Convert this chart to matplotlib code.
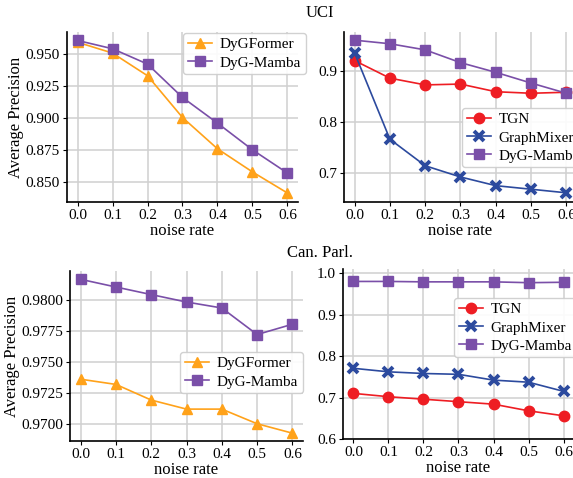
import matplotlib
matplotlib.use("Agg")
import matplotlib.pyplot as plt
import numpy as np

noise = [0.0, 0.1, 0.2, 0.3, 0.4, 0.5, 0.6]

uci_dygformer = [0.959, 0.9505, 0.9328, 0.9001, 0.8756, 0.8575, 0.8410]
uci_dygmamba_l = [0.9604, 0.9539, 0.9419, 0.9158, 0.8957, 0.8748, 0.8566]
uci_tgn = [0.920, 0.8856, 0.8724, 0.874, 0.859, 0.856, 0.858]
uci_graphmixer = [0.935, 0.766, 0.714, 0.692, 0.675, 0.668, 0.661]
uci_dygmamba_r = [0.960, 0.953, 0.941, 0.916, 0.897, 0.876, 0.856]

cp_dygformer = [0.97364, 0.97322, 0.97196, 0.97123, 0.97123, 0.97005, 0.96929]
cp_dygmamba_l = [0.98169, 0.98107, 0.98046, 0.97986, 0.97938, 0.97724, 0.97807]
cp_tgn = [0.710, 0.702, 0.696, 0.690, 0.684, 0.668, 0.656]
cp_graphmixer = [0.7705, 0.762, 0.758, 0.756, 0.742, 0.737, 0.715]
cp_dygmamba_r = [0.980, 0.980, 0.979, 0.979, 0.979, 0.977, 0.978]

titles = ["UCI", "Can. Parl."]
xticks = [0.0, 0.1, 0.2, 0.3, 0.4, 0.5, 0.6]

ORANGE = "#FFA21A"
PURPLE = "#7A4FA8"
RED = "#EE1D23"
BLUE = "#2C4A9E"

plt.rcParams['font.family'] = ['Liberation Serif', 'DejaVu Serif']
plt.rcParams['font.size'] = 11

fig = plt.figure(figsize=(5.73, 4.78), dpi=100)
W, H = 573.0, 478.0

def mkax(l, t, r, b):
    return fig.add_axes([l / W, 1 - b / H, (r - l) / W, (b - t) / H])

def style(ax, yticks, ylim, fmt):
    ax.set_facecolor("white")
    ax.grid(True, color="#D0D0D0", linewidth=1.1)
    ax.set_axisbelow(True)
    for s in ["top", "right"]:
        ax.spines[s].set_visible(False)
    for s in ["left", "bottom"]:
        ax.spines[s].set_color("black")
        ax.spines[s].set_linewidth(1.2)
    ax.set_xticks(xticks)
    ax.set_xticklabels([f"{v:.1f}" for v in xticks])
    ax.set_yticks(yticks)
    ax.set_yticklabels([fmt.format(v) for v in yticks])
    ax.set_ylim(*ylim)
    ax.set_xlim(-0.03, 0.63)
    ax.tick_params(axis="both", labelsize=11, length=3, width=0.8, direction="out", color="black", pad=2)
    ax.set_xlabel("noise rate", fontsize=12, labelpad=1)

lw = 1.2
ms = 7.5
legkw = dict(fontsize=11, framealpha=0.9, edgecolor="#CCCCCC", borderpad=0.3,
             handlelength=1.6, handletextpad=0.5, labelspacing=0.3, borderaxespad=0.0)

def fig_loc(ax, x, y):
    inv = ax.transAxes.inverted()
    px = fig.transFigure.transform((x / W, 1 - y / H))
    return tuple(inv.transform(px))

# Top-left
ax1 = mkax(67, 32, 298, 202)
ax1.plot(noise, uci_dygformer, color=ORANGE, marker="^", ms=ms, lw=lw, label="DyGFormer")
ax1.plot(noise, uci_dygmamba_l, color=PURPLE, marker="s", ms=ms, lw=lw, label="DyG-Mamba")
style(ax1, [0.850, 0.875, 0.900, 0.925, 0.950], (0.834, 0.967), "{:.3f}")
ax1.set_ylabel("Average Precision", fontsize=12, labelpad=1)
ax1.legend(loc="upper left", bbox_to_anchor=fig_loc(ax1, 183, 33), **legkw)

# Top-right
ax2 = mkax(344, 32, 577, 202)
ax2.plot(noise, uci_tgn, color=RED, marker="o", ms=ms, lw=lw, label="TGN")
ax2.plot(noise, uci_graphmixer, color=BLUE, marker="x", ms=ms, mew=2.8, lw=lw, label="GraphMixer")
ax2.plot(noise, uci_dygmamba_r, color=PURPLE, marker="s", ms=ms, lw=lw, label="DyG-Mamba")
style(ax2, [0.7, 0.8, 0.9], (0.643, 0.976), "{:.1f}")
ax2.legend(loc="upper left", bbox_to_anchor=fig_loc(ax2, 462, 108), **legkw)

# Bottom-left
ax3 = mkax(70, 271, 303, 441)
ax3.plot(noise, cp_dygformer, color=ORANGE, marker="^", ms=ms, lw=lw, label="DyGFormer")
ax3.plot(noise, cp_dygmamba_l, color=PURPLE, marker="s", ms=ms, lw=lw, label="DyG-Mamba")
style(ax3, [0.9700, 0.9725, 0.9750, 0.9775, 0.9800], (0.96866, 0.98236), "{:.4f}")
ax3.set_ylabel("Average Precision", fontsize=12, labelpad=1)
ax3.legend(loc="upper left", bbox_to_anchor=fig_loc(ax3, 180, 352), **legkw)

# Bottom-right
ax4 = mkax(343, 269, 574, 439)
ax4.plot(noise, cp_tgn, color=RED, marker="o", ms=ms, lw=lw, label="TGN")
ax4.plot(noise, cp_graphmixer, color=BLUE, marker="x", ms=ms, mew=2.8, lw=lw, label="GraphMixer")
ax4.plot(noise, cp_dygmamba_r, color=PURPLE, marker="s", ms=ms, lw=lw, label="DyG-Mamba")
style(ax4, [0.6, 0.7, 0.8, 0.9, 1.0], (0.6, 1.01), "{:.1f}")
ax4.legend(loc="upper left", bbox_to_anchor=fig_loc(ax4, 454, 298), **legkw)

fig.text(320 / W, 1 - 13 / H, titles[0], ha="center", va="center", fontsize=12)
fig.text(320 / W, 1 - 253 / H, titles[1], ha="center", va="center", fontsize=12)

fig.savefig("out.png", dpi=100, facecolor="white")
